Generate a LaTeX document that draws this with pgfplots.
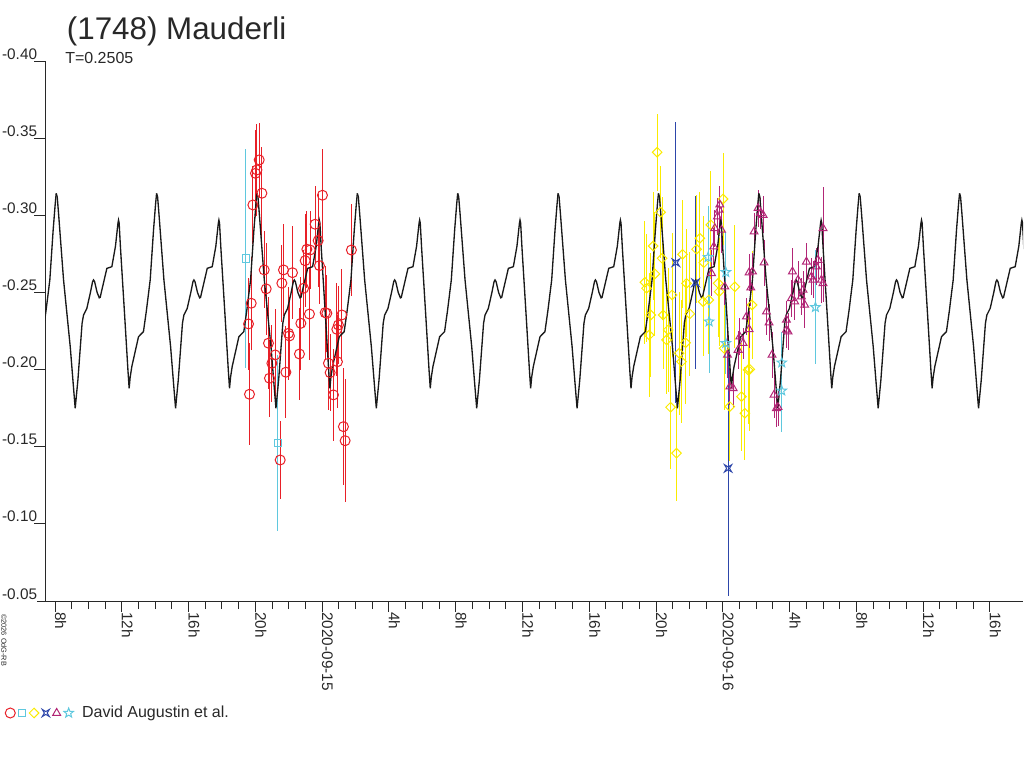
\documentclass[border=0pt]{standalone}
\usepackage{fontspec}
\setmainfont{Liberation Sans}
\usepackage{pgfplots}
\pgfplotsset{compat=1.18}
\usepackage{pgfplotstable}
\usetikzlibrary{plotmarks}

\definecolor{cred}{RGB}{232,32,40}
\definecolor{ccyan}{RGB}{95,200,222}
\definecolor{cyel}{RGB}{250,235,0}
\definecolor{cblue}{RGB}{45,70,170}
\definecolor{cpur}{RGB}{178,38,118}
\definecolor{caxis}{RGB}{40,40,40}

\pgfplotsset{markonly legend/.style={legend image code/.code={\draw[##1] plot coordinates {(0pt,0pt)};}}}

\pgfdeclareplotmark{hourglass}{%
  \pgfpathmoveto{\pgfqpoint{\pgfplotmarksize}{\pgfplotmarksize}}%
  \pgfpathlineto{\pgfpoint{0pt}{0.4\pgfplotmarksize}}%
  \pgfpathlineto{\pgfqpoint{-\pgfplotmarksize}{\pgfplotmarksize}}%
  \pgfpathlineto{\pgfpoint{-0.4\pgfplotmarksize}{0pt}}%
  \pgfpathlineto{\pgfqpoint{-\pgfplotmarksize}{-\pgfplotmarksize}}%
  \pgfpathlineto{\pgfpoint{0pt}{-0.4\pgfplotmarksize}}%
  \pgfpathlineto{\pgfqpoint{\pgfplotmarksize}{-\pgfplotmarksize}}%
  \pgfpathlineto{\pgfpoint{0.4\pgfplotmarksize}{0pt}}%
  \pgfpathclose
  \pgfusepathqstroke}
\pgfdeclareplotmark{odiamond}{%
  \pgfpathmoveto{\pgfqpoint{0pt}{\pgfplotmarksize}}%
  \pgfpathlineto{\pgfqpoint{\pgfplotmarksize}{0pt}}%
  \pgfpathlineto{\pgfqpoint{0pt}{-\pgfplotmarksize}}%
  \pgfpathlineto{\pgfqpoint{-\pgfplotmarksize}{0pt}}%
  \pgfpathclose
  \pgfusepathqstroke}
\pgfdeclareplotmark{ostar}{%
  \pgfpathmoveto{\pgfpointpolar{90}{\pgfplotmarksize}}%
  \pgfpathlineto{\pgfpointpolar{126}{0.42\pgfplotmarksize}}%
  \pgfpathlineto{\pgfpointpolar{162}{\pgfplotmarksize}}%
  \pgfpathlineto{\pgfpointpolar{198}{0.42\pgfplotmarksize}}%
  \pgfpathlineto{\pgfpointpolar{234}{\pgfplotmarksize}}%
  \pgfpathlineto{\pgfpointpolar{270}{0.42\pgfplotmarksize}}%
  \pgfpathlineto{\pgfpointpolar{306}{\pgfplotmarksize}}%
  \pgfpathlineto{\pgfpointpolar{342}{0.42\pgfplotmarksize}}%
  \pgfpathlineto{\pgfpointpolar{18}{\pgfplotmarksize}}%
  \pgfpathlineto{\pgfpointpolar{54}{0.42\pgfplotmarksize}}%
  \pgfpathclose
  \pgfusepathqstroke}

% one period of the model lightcurve: t = hours after main maximum
\pgfplotstableread{
t m
0.000 -0.3142
0.060 -0.3120
0.140 -0.3013
0.440 -0.2581
0.840 -0.2149
1.080 -0.1825
1.138 -0.1749
1.200 -0.1820
1.300 -0.1933
1.550 -0.2300
1.637 -0.2354
1.836 -0.2397
2.050 -0.2500
2.180 -0.2570
2.236 -0.2581
2.300 -0.2570
2.450 -0.2500
2.580 -0.2465
2.635 -0.2468
2.700 -0.2500
3.035 -0.2656
3.334 -0.2667
3.550 -0.2800
3.700 -0.2950
3.733 -0.2969
3.770 -0.2950
3.850 -0.2790
4.100 -0.2350
4.300 -0.1990
4.369 -0.1878
4.430 -0.1950
4.530 -0.2020
4.930 -0.2213
5.226 -0.2246
5.400 -0.2380
5.630 -0.2581
5.830 -0.2905
5.950 -0.3070
6.012 -0.3142
}\curvetab

\pgfplotstableread{
x y e
-3.770 -0.3359 0.024
-3.908 -0.3294 0.030
-3.992 -0.3272 0.028
-3.609 -0.3143 0.030
-4.147 -0.3067 0.025
0.018 -0.3130 0.030
-3.471 -0.2646 0.025
-2.316 -0.2646 0.030
-1.777 -0.2628 0.030
-3.351 -0.2523 0.030
-2.412 -0.2560 0.025
-4.249 -0.2430 0.030
1.753 -0.2775 0.030
-0.419 -0.2942 0.025
-0.239 -0.2836 0.030
-0.916 -0.2780 0.025
-1.017 -0.2706 0.030
-0.162 -0.2674 0.025
-1.113 -0.2527 0.025
-0.718 -0.2775 0.025
-4.410 -0.2296 0.030
-3.214 -0.2171 0.030
-2.813 -0.2095 0.030
-3.010 -0.2041 0.025
-3.154 -0.1944 0.025
-2.172 -0.1983 0.030
-4.351 -0.1840 0.033
-2.017 -0.2235 0.030
-1.957 -0.2218 0.025
-1.275 -0.2300 0.030
-0.760 -0.2360 0.030
-1.358 -0.2101 0.030
0.180 -0.2369 0.030
0.281 -0.2365 0.025
1.179 -0.2354 0.030
0.880 -0.2261 0.030
0.975 -0.2289 0.025
0.377 -0.2041 0.030
0.479 -0.1980 0.025
0.916 -0.2051 0.030
0.676 -0.1836 0.030
1.275 -0.1630 0.038
1.376 -0.1539 0.040
-2.513 -0.1414 0.025
}\redtab

\pgfplotstableread{
x y e
-4.566 -0.2719 0.071
-2.651 -0.1526 0.057
}\sqtab

\pgfplotstableread{
x y e
20.066 -0.3409 0.025
20.269 -0.3020 0.030
19.826 -0.2801 0.035
20.365 -0.2721 0.040
21.586 -0.2747 0.035
22.621 -0.2851 0.030
22.424 -0.2780 0.035
22.861 -0.2693 0.030
19.928 -0.2620 0.040
19.330 -0.2566 0.040
19.432 -0.2527 0.035
20.964 -0.2484 0.040
21.826 -0.2559 0.035
23.716 -0.2559 0.035
23.776 -0.2505 0.035
24.716 -0.2537 0.040
22.819 -0.2440 0.035
23.160 -0.2451 0.035
24.015 -0.3106 0.030
23.279 -0.2938 0.035
19.689 -0.2354 0.040
20.425 -0.2354 0.035
22.023 -0.2361 0.040
19.587 -0.2224 0.040
20.724 -0.2257 0.040
20.628 -0.2192 0.035
21.765 -0.2174 0.040
21.382 -0.2106 0.040
21.526 -0.2051 0.040
20.868 -0.1756 0.040
21.227 -0.1458 0.031
24.075 -0.2138 0.040
24.416 -0.1760 0.035
25.314 -0.1717 0.030
25.117 -0.1825 0.035
25.512 -0.1998 0.035
25.751 -0.2419 0.035
25.613 -0.2002 0.040
}\yeltab

\pgfplotstableread{
x y e
21.185 -0.2693 0.091
22.364 -0.2563 0.056
24.315 -0.1360 0.083
}\bluetab

\pgfplotstableread{
x y e
23.818 -0.3069 0.012
23.776 -0.3035 0.015
23.680 -0.2991 0.012
23.920 -0.2905 0.015
23.519 -0.2916 0.012
23.459 -0.2797 0.012
23.321 -0.2624 0.015
24.117 -0.2537 0.012
25.572 -0.2628 0.012
24.279 -0.2095 0.015
24.417 -0.1889 0.012
24.614 -0.1879 0.012
24.913 -0.2127 0.012
25.015 -0.2213 0.012
25.213 -0.2171 0.010
25.416 -0.2343 0.012
26.110 -0.3046 0.012
26.254 -0.3013 0.010
26.409 -0.3002 0.012
25.871 -0.2894 0.012
26.469 -0.2693 0.015
25.775 -0.2635 0.012
25.673 -0.2531 0.012
25.572 -0.2261 0.012
26.613 -0.2375 0.015
26.768 -0.2304 0.012
27.810 -0.2257 0.012
28.169 -0.2635 0.015
29.007 -0.2699 0.012
28.504 -0.2581 0.012
28.803 -0.2516 0.012
29.402 -0.2581 0.012
29.904 -0.2581 0.015
30.000 -0.2916 0.027
29.701 -0.2710 0.012
29.605 -0.2667 0.012
30.000 -0.2559 0.012
28.109 -0.2462 0.012
28.306 -0.2440 0.012
28.707 -0.2473 0.012
28.905 -0.2419 0.015
29.306 -0.2602 0.012
27.810 -0.2322 0.012
27.906 -0.2246 0.012
26.947 -0.2095 0.015
27.067 -0.1836 0.015
27.211 -0.1749 0.012
27.307 -0.1756 0.012
}\purtab

\pgfplotstableread{
x y e
23.118 -0.2728 0.033
23.178 -0.2311 0.033
24.177 -0.2631 0.026
24.177 -0.2171 0.020
27.528 -0.2045 0.020
27.528 -0.1863 0.027
29.545 -0.2404 0.037
}\startab

\begin{document}
\begin{tikzpicture}
\useasboundingbox (0,0) rectangle (768pt,576pt);
\begin{axis}[
  at={(33.75pt,125.25pt)}, anchor=south west,
  scale only axis, width=733.5pt, height=405pt,
  xmin=-16.6, xmax=41.98, ymin=-0.40, ymax=-0.05, y dir=reverse,
  axis x line*=bottom, axis y line*=left,
  axis line style={caxis, line width=0.75pt, -},
  xtick={-16,-12,-8,-4,0,4,8,12,16,20,24,28,32,36,40},
  xticklabels={8h,12h,16h,20h,2020-09-15,4h,8h,12h,16h,20h,2020-09-16,4h,8h,12h,16h},
  minor x tick num=3,
  ytick={-0.40,-0.35,-0.30,-0.25,-0.20,-0.15,-0.10,-0.05},
  yticklabels={-0.40,-0.35,-0.30,-0.25,-0.20,-0.15,-0.10,-0.05},
  tick align=outside, major tick length=8.25pt, minor tick length=6pt,
  tick style={caxis, line width=0.75pt},
  ytick style={shorten <=2.25pt},
  xticklabel style={rotate=-90, anchor=base west, inner sep=0pt, font=\fontsize{11.5}{13}\selectfont, text=caxis},
  yticklabel style={anchor=base east, inner sep=0pt, yshift=1.5pt, xshift=2.5pt, font=\fontsize{11.5}{13}\selectfont, text=caxis},
  error bars/y dir=both, error bars/y explicit, error bars/error mark=none,
  legend style={at={(-0.0409,-0.2074)}, anchor=west, legend columns=-1, draw=none, fill=none,
    inner sep=0pt, font=\fontsize{12}{14}\selectfont, text=caxis,
    nodes={inner sep=0pt},
    /tikz/every odd column/.append style={column sep=1.5pt}},
]
\addplot[only marks, cred, mark=o, mark size=3.75pt, mark options={line width=0.75pt},
  error bars/error bar style={cred, line width=0.75pt}, markonly legend]
  table[x=x, y=y, y error=e]{\redtab};
\addlegendentry{}
\addplot[only marks, ccyan, mark=square, mark size=2.75pt, mark options={line width=0.75pt},
  error bars/error bar style={ccyan, line width=0.75pt}, markonly legend]
  table[x=x, y=y, y error=e]{\sqtab};
\addlegendentry{}
\addplot[only marks, cyel, mark=odiamond, mark size=3.6pt, mark options={line width=0.75pt},
  error bars/error bar style={cyel, line width=0.75pt}, markonly legend]
  table[x=x, y=y, y error=e]{\yeltab};
\addlegendentry{}
\addplot[only marks, cblue, mark=hourglass, mark size=2.7pt, mark options={line width=0.75pt},
  error bars/error bar style={cblue, line width=0.75pt}, markonly legend]
  table[x=x, y=y, y error=e]{\bluetab};
\addlegendentry{}
\addplot[only marks, cpur, mark=triangle, mark size=3.4pt, mark options={line width=0.75pt},
  error bars/error bar style={cpur, line width=0.75pt}, markonly legend]
  table[x=x, y=y, y error=e]{\purtab};
\addlegendentry{}
\addplot[only marks, ccyan, mark=ostar, mark size=3.75pt, mark options={line width=0.75pt},
  error bars/error bar style={ccyan, line width=0.75pt}, markonly legend]
  table[x=x, y=y, y error=e]{\startab};
\addlegendentry{\hspace{5pt}David Augustin et al.}
\pgfplotsinvokeforeach{-5,...,5}{
  \addplot[color={rgb,255:red,25;green,25;blue,25}, line width=1pt, no marks, forget plot]
    table[x expr=\thisrow{t}+8.119+#1*6.012, y=m]{\curvetab};
}
\end{axis}
\node[anchor=base west, inner sep=0pt, text=caxis, font=\fontsize{23.5}{26}\selectfont] at (50pt,546pt) {(1748) Mauderli};
\node[anchor=base west, inner sep=0pt, text=caxis, font=\fontsize{12}{14}\selectfont] at (48.75pt,528.5pt) {T=0.2505};
\node[rotate=-90, anchor=base west, inner sep=0pt, text=caxis, font=\fontsize{5.5}{6}\selectfont] at (1pt,115.5pt) {©2026 OdG-RB};
\end{tikzpicture}
\end{document}
